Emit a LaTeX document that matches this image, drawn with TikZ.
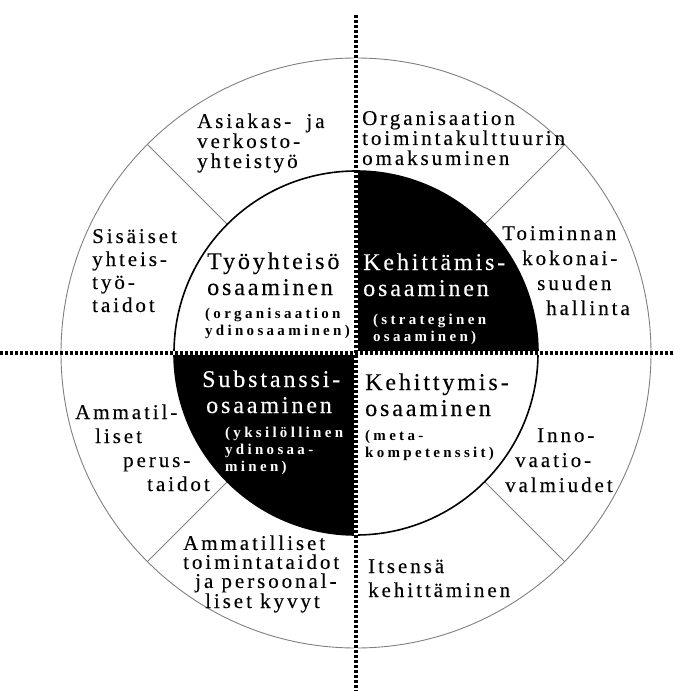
\documentclass[tikz,border=0pt]{standalone}
\usepackage{fontspec}
\setmainfont{Liberation Serif}
\newfontfamily\ringfont[LetterSpace=14,FakeBold=0.25]{Liberation Serif}
\newfontfamily\corefont[LetterSpace=12,FakeBold=0.25]{Liberation Serif}
\newfontfamily\notefont[LetterSpace=22]{Liberation Serif}
\tikzset{
  ring/.style={font=\ringfont\fontsize{21}{#1}\selectfont,align=left,anchor=base west,inner sep=0pt},
  ring/.default=24,
  core/.style={font=\corefont\fontsize{24}{26}\selectfont,align=left,anchor=base west,inner sep=0pt},
  note/.style={font=\notefont\bfseries\fontsize{15}{17}\selectfont,align=left,anchor=base west,inner sep=0pt},
  splitline/.style={line width=3.3pt,dash pattern=on 3.2pt off 1.8pt},
  thinline/.style={gray,line width=.9pt},
}
\begin{document}
\begin{tikzpicture}[x=1pt,y=1pt]
  \useasboundingbox (-356,-338) rectangle (318,353);
  \draw[thinline] (0,0) circle(295pt);
  \foreach \a in {45,135,225,315}
    \draw[thinline] (\a:182pt) -- (\a:295pt);
  \fill[white] (0,0) circle(182pt);
  \fill (0,0) -- (182pt,0) arc(0:90:182pt) -- cycle;
  \fill (0,0) -- (-182pt,0) arc(180:270:182pt) -- cycle;
  \draw[line width=1.6pt] (0,0) circle(182pt);
  \coordinate (top) at (0,338);
  \coordinate (bottom) at (0,-338);
  \coordinate (left) at (-356,0);
  \coordinate (right) at (318,0);
  \draw[white,line width=3.3pt] (top) -- (bottom) (left) -- (right);
  \draw[splitline] (top) -- (bottom);
  \draw[splitline] (left) -- (right);
  \node[ring=20] (asiakas) at (-159,185) {Asiakas-\hspace{7pt} ja\\verkosto-\\yhteistyö};
  \node[ring=23] (sisaiset) at (-264,41) {Sisäiset\\yhteis-\\työ-\\taidot};
  \node[ring=20] (organisaatio) at (6,188) {Organisaation\\toimintakulttuurin\\omaksuminen};
  \node[ring=25] (toiminnan) at (146,38) {Toiminnan\\\hspace*{20pt}kokonai-\\\hspace*{35pt}suuden\\\hspace*{44pt}hallinta};
  \node[ring] (ammatil) at (-281,-138) {Ammatil-\\\hspace*{20pt}liset\\\hspace*{48pt}perus-\\\hspace*{72pt}taidot};
  \node[ring=25] (inno) at (149,-139) {\hspace*{32pt}Inno-\\\hspace*{10pt}vaatio-\\valmiudet};
  \node[ring=19] (toimintataidot) at (-173,-255) {Ammatilliset\\toimintataidot\\\hspace*{12pt}ja persoonal-\\\hspace*{22pt}liset kyvyt};
  \node[ring] (itsensa) at (12,-244) {Itsensä\\kehittäminen};
  \node[core] (tyoyhteiso) at (-149,58) {Työyhteisö\\osaaminen};
  \node[note] (tyoyhteisonote) at (-151,18) {(organisaation\\ydinosaaminen)};
  \node[core,text=white] (kehittamis) at (7,57) {Kehittämis-\\osaaminen};
  \node[note,text=white] (kehittamisnote) at (17,12) {(strateginen\\osaaminen)};
  \node[core,text=white] (substanssi) at (-154,-60) {Substanssi-\\\hspace*{4pt}osaaminen};
  \node[note,text=white] (substanssinote) at (-131,-118) {(yksilöllinen\\ydinosaa-\\minen)};
  \node[core] (kehittymis) at (9,-63) {Kehittymis-\\osaaminen};
  \node[note] (kehittymisnote) at (9,-104) {(meta-\\kompetenssit)};
\end{tikzpicture}
\end{document}
